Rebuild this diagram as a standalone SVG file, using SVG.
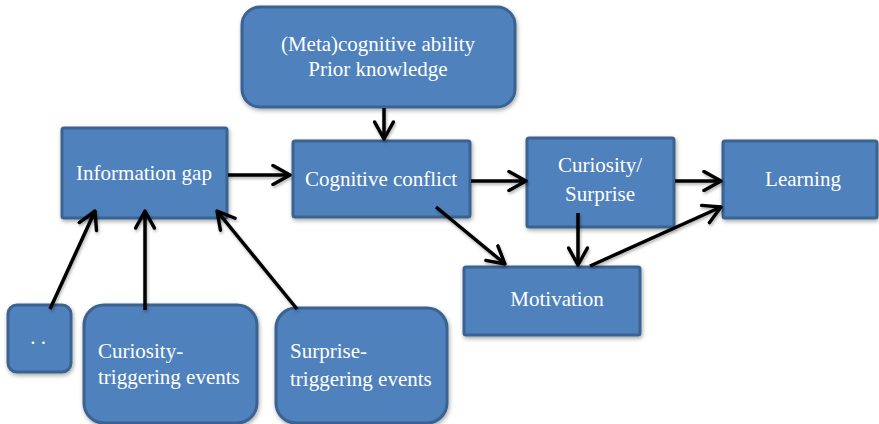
<svg xmlns="http://www.w3.org/2000/svg" width="879" height="424" viewBox="0 0 879 424">
<style>
.box{fill:#4F81BD;stroke:#3A6391;stroke-width:3;filter:url(#sh)}
.t{fill:#ffffff;font-family:"Liberation Serif","Times New Roman",serif;font-size:21px}
.c{text-anchor:middle}
.ln{stroke:#000;stroke-width:3.5;fill:none;marker-end:url(#ah)}
</style>
<defs>
<filter id="sh" x="-10%" y="-10%" width="130%" height="130%">
<feDropShadow dx="1" dy="2" stdDeviation="2" flood-color="#000" flood-opacity="0.35"/>
</filter>
<filter id="sh2" filterUnits="userSpaceOnUse" x="0" y="0" width="879" height="424">
<feDropShadow dx="1" dy="2" stdDeviation="1.5" flood-color="#000" flood-opacity="0.3"/>
</filter>
<marker id="ah" viewBox="0 0 12 12" refX="10" refY="6" markerWidth="6.5" markerHeight="6.5" orient="auto" markerUnits="strokeWidth">
<path d="M1,1 L10,6 L1,11" fill="none" stroke="#000" stroke-width="1.8" stroke-linecap="round" stroke-linejoin="round"/>
</marker>
</defs>
<g id="meta">
<rect class="box" x="242" y="7" width="273" height="100" rx="18"/>
<text class="t c" x="378" y="51">(Meta)cognitive ability</text>
<text class="t c" x="378" y="76">Prior knowledge</text>
</g>
<g id="infogap">
<rect class="box" x="62" y="128" width="165" height="90" rx="2"/>
<text class="t c" x="144" y="180">Information gap</text>
</g>
<g id="conflict">
<rect class="box" x="293" y="141" width="177" height="76" rx="2"/>
<text class="t c" x="381" y="186">Cognitive conflict</text>
</g>
<g id="curiosity">
<rect class="box" x="527" y="138" width="147" height="89" rx="2"/>
<text class="t c" x="600" y="172">Curiosity/</text>
<text class="t c" x="600" y="201">Surprise</text>
</g>
<g id="learning">
<rect class="box" x="723" y="141" width="154" height="77" rx="2"/>
<text class="t c" x="803" y="186">Learning</text>
</g>
<g id="motivation">
<rect class="box" x="464" y="267" width="176" height="68" rx="2"/>
<text class="t c" x="557" y="306">Motivation</text>
</g>
<g id="dots">
<rect class="box" x="8" y="305" width="63" height="67" rx="9"/>
<text class="t c" x="38" y="344">. .</text>
</g>
<g id="curtrig">
<rect class="box" x="84" y="305" width="173" height="118" rx="20"/>
<text class="t" x="98" y="358">Curiosity-</text>
<text class="t" x="98" y="384">triggering events</text>
</g>
<g id="surtrig">
<rect class="box" x="276" y="308" width="171" height="115" rx="20"/>
<text class="t" x="290" y="358">Surprise-</text>
<text class="t" x="290" y="386">triggering events</text>
</g>
<g id="connectors" filter="url(#sh2)">
<line class="ln" x1="228" y1="175" x2="290" y2="175"/>
<line class="ln" x1="384" y1="108" x2="384" y2="139"/>
<line class="ln" x1="471" y1="181" x2="526" y2="181"/>
<line class="ln" x1="675" y1="181" x2="721" y2="181"/>
<line class="ln" x1="436" y1="207" x2="505" y2="264"/>
<line class="ln" x1="578" y1="213" x2="578" y2="265"/>
<line class="ln" x1="590" y1="266" x2="721" y2="207"/>
<line class="ln" x1="50" y1="309" x2="95" y2="211"/>
<line class="ln" x1="145" y1="310" x2="145" y2="211"/>
<line class="ln" x1="297" y1="309" x2="217" y2="211"/>
</g>
</svg>
